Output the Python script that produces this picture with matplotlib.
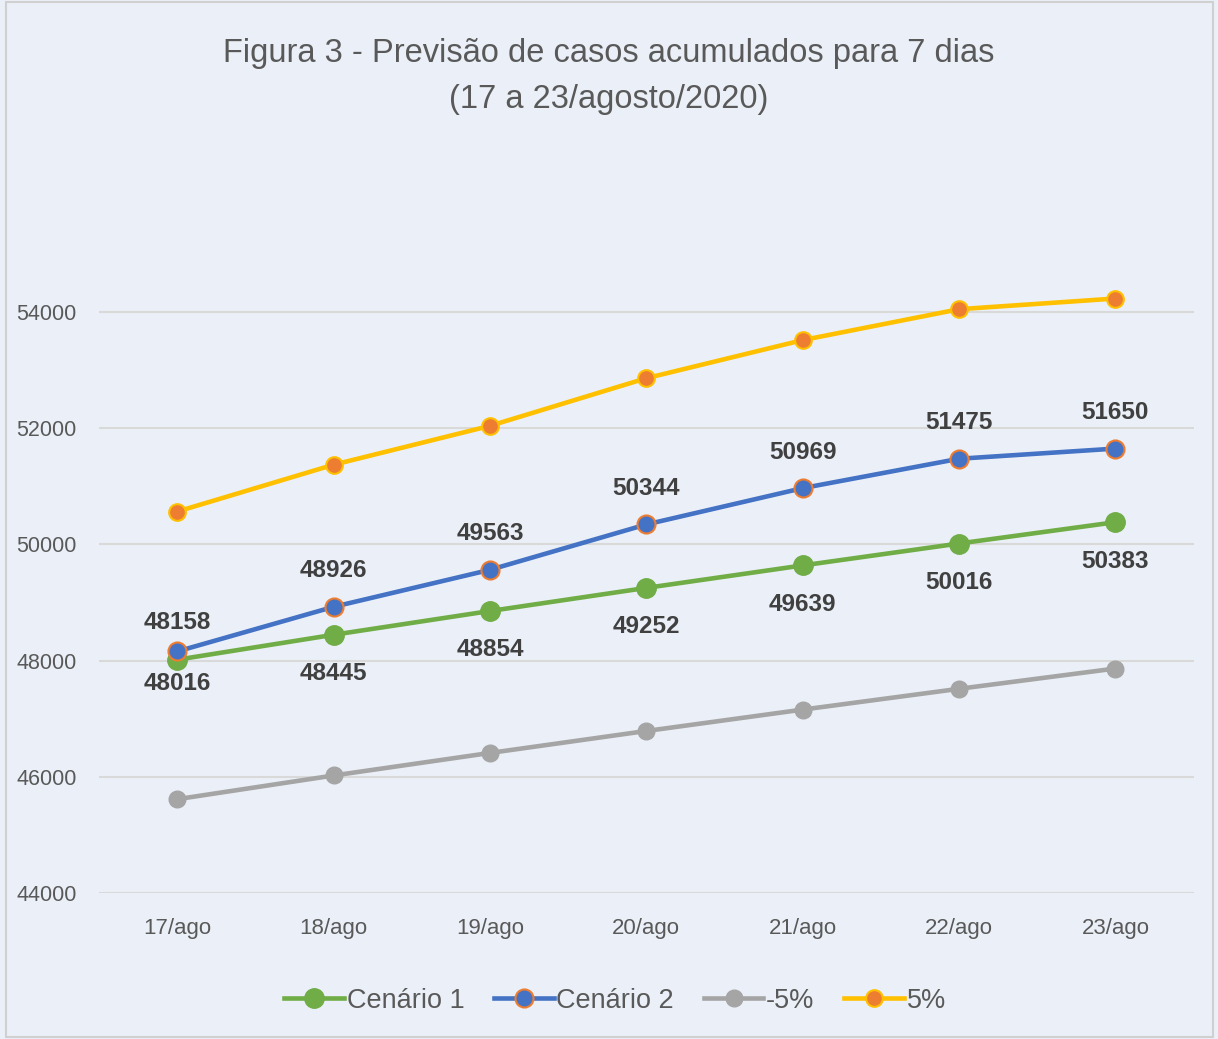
import matplotlib.pyplot as plt

# Data
dias = ["17/ago", "18/ago", "19/ago", "20/ago", "21/ago", "22/ago", "23/ago"]
cenario1 = [48016, 48445, 48854, 49252, 49639, 50016, 50383]
cenario2 = [48158, 48926, 49563, 50344, 50969, 51475, 51650]
menos5 = [45615, 46023, 46411, 46789, 47157, 47515, 47864]
mais5 = [50566, 51372, 52041, 52861, 53517, 54049, 54233]

bg = "#EBF0F8"
txt = "#595959"
plt.rcParams['font.family'] = ['Liberation Sans', 'DejaVu Sans']

fig = plt.figure(figsize=(12.18, 10.39), dpi=100, facecolor=bg)
ax = fig.add_axes([0.0813, 0.1405, 0.8987, 0.671])
ax.set_facecolor(bg)

x = range(len(dias))
ax.plot(x, cenario1, color="#70AD47", lw=3.3, marker='o', ms=14,
        mfc="#70AD47", mec="#70AD47", label="Cenário 1", zorder=3)
ax.plot(x, cenario2, color="#4472C4", lw=3.3, marker='o', ms=13,
        mfc="#4472C4", mec="#ED7D31", mew=1.5, label="Cenário 2", zorder=4)
ax.plot(x, menos5, color="#A5A5A5", lw=3.3, marker='o', ms=12,
        mfc="#A5A5A5", mec="#A5A5A5", label="-5%", zorder=3)
ax.plot(x, mais5, color="#FFC000", lw=3.3, marker='o', ms=12,
        mfc="#ED7D31", mec="#FFC000", mew=1.5, label="5%", zorder=3)

# data labels: Cenário 2 above, Cenário 1 below (first pair sits closer)
for i, v in enumerate(cenario2):
    dy = 21 if i == 0 else 26
    ax.annotate(str(v), (i, v), xytext=(0, dy), textcoords='offset points',
                ha='center', va='center', fontsize=17.5, fontweight='bold', color="#404040")
for i, v in enumerate(cenario1):
    dy = -17 if i == 0 else -28
    ax.annotate(str(v), (i, v), xytext=(0, dy), textcoords='offset points',
                ha='center', va='center', fontsize=17.5, fontweight='bold', color="#404040")

ax.set_xlim(-0.5, 6.5)
ax.set_ylim(44000, 56000)
ax.set_yticks([44000, 46000, 48000, 50000, 52000, 54000])
ax.set_xticks(list(x))
ax.set_xticklabels(dias)
ax.tick_params(axis='y', length=0, labelsize=15.5, labelcolor=txt, pad=16)
ax.tick_params(axis='x', length=0, labelsize=16, labelcolor=txt, pad=18)
ax.grid(axis='y', color="#D9D9D9", lw=1.5)
ax.set_axisbelow(True)
for s in ax.spines.values():
    s.set_visible(False)

fig.text(0.5, 0.963, "Figura 3 - Previsão de casos acumulados para 7 dias\n(17 a 23/agosto/2020)",
         ha='center', va='top', fontsize=23.5, color=txt, linespacing=1.6)

leg = fig.legend(loc='center', bbox_to_anchor=(0.505, 0.037), ncol=4, frameon=False,
                 fontsize=19.5, handlelength=2.2, handletextpad=0.1, columnspacing=1.1)
for t in leg.get_texts():
    t.set_color(txt)

# outer border
fig.add_artist(plt.Rectangle((0.005, 0.002), 0.991, 0.996, transform=fig.transFigure,
                             fill=False, ec="#D0D0D0", lw=1.5))

fig.savefig("out.png", dpi=100, facecolor=bg)
